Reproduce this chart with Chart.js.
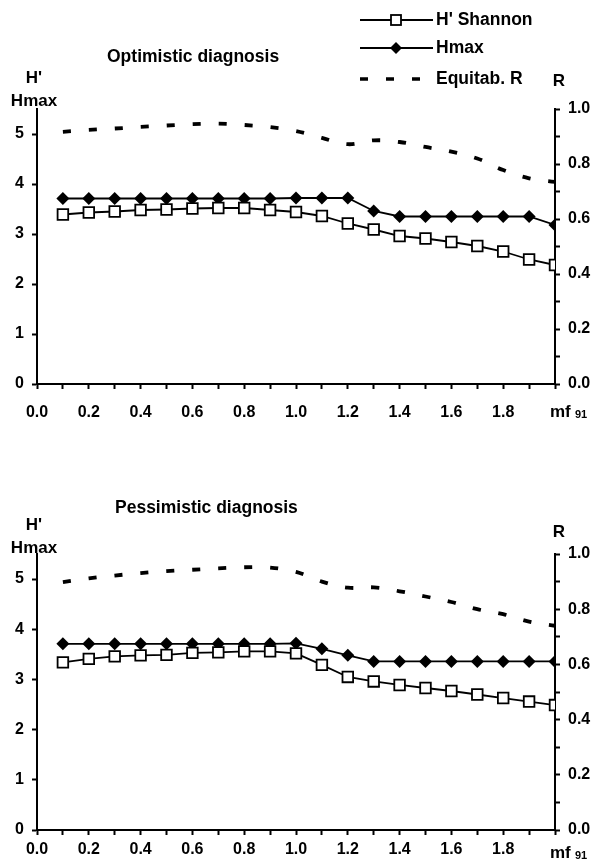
<!DOCTYPE html>
<html>
<head>
<meta charset="utf-8">
<script src="https://cdn.jsdelivr.net/npm/chart.js@4.4.1/dist/chart.umd.min.js"></script>
<style>
  body { margin: 0; background: #fff; width: 594px; height: 865px; overflow: hidden; position: relative; }
  canvas { position: absolute; left: 0; }
</style>
</head>
<body>
<canvas id="optimistic" width="594" height="432" style="top:0"></canvas>
<canvas id="pessimistic" width="594" height="433" style="top:432px"></canvas>
<script>
const mf = [0.1, 0.2, 0.3, 0.4, 0.5, 0.6, 0.7, 0.8, 0.9, 1.0,
            1.1, 1.2, 1.3, 1.4, 1.5, 1.6, 1.7, 1.8, 1.9, 2.0]

// optimistic diagnosis
const optShannon = [3.39, 3.43, 3.45, 3.48, 3.49, 3.51, 3.52, 3.52, 3.48, 3.44,
                    3.36, 3.21, 3.09, 2.96, 2.91, 2.84, 2.76, 2.65, 2.49, 2.38]
const optHmax = [3.71, 3.71, 3.71, 3.71, 3.71, 3.71, 3.71, 3.71, 3.71, 3.72,
                 3.72, 3.72, 3.46, 3.35, 3.35, 3.35, 3.35, 3.35, 3.35, 3.18]
const optEquitab = [0.917, 0.924, 0.929, 0.935, 0.940, 0.945, 0.947, 0.942, 0.934, 0.920,
                    0.895, 0.872, 0.886, 0.880, 0.862, 0.845, 0.820, 0.778, 0.748, 0.735]

// pessimistic diagnosis
const pesShannon = [3.34, 3.41, 3.46, 3.48, 3.49, 3.53, 3.54, 3.56, 3.56, 3.52,
                    3.29, 3.05, 2.96, 2.89, 2.83, 2.77, 2.70, 2.63, 2.56, 2.49]
const pesHmax = [3.71, 3.71, 3.71, 3.71, 3.71, 3.71, 3.71, 3.71, 3.71, 3.72,
                 3.61, 3.48, 3.36, 3.36, 3.36, 3.36, 3.36, 3.36, 3.36, 3.36]
const pesEquitab = [0.898, 0.912, 0.922, 0.931, 0.938, 0.943, 0.948, 0.952, 0.951, 0.935,
                    0.900, 0.878, 0.879, 0.865, 0.846, 0.826, 0.800, 0.782, 0.755, 0.740]

const seriesNames = ["H' Shannon", 'Hmax', 'Equitab. R']
const xTickLabels = ['0.0', '0.2', '0.4', '0.6', '0.8', '1.0', '1.2', '1.4', '1.6', '1.8']

const FONT = '"Liberation Sans", Arial, sans-serif'
Chart.defaults.font.family = FONT
Chart.defaults.color = '#000'

function pts(ys) {
  return mf.map((x, i) => ({ x, y: ys[i] }))
}

function drawSquare(ctx, x, y) {
  ctx.fillStyle = '#fff'
  ctx.strokeStyle = '#000'
  ctx.lineWidth = 1.8
  ctx.setLineDash([])
  ctx.fillRect(x - 5, y - 5, 10, 10)
  ctx.strokeRect(x - 5, y - 5, 10, 10)
}

function drawDiamond(ctx, x, y) {
  ctx.fillStyle = '#000'
  ctx.beginPath()
  ctx.moveTo(x, y - 6)
  ctx.lineTo(x + 6, y)
  ctx.lineTo(x, y + 6)
  ctx.lineTo(x - 6, y)
  ctx.closePath()
  ctx.fill()
}

const textPlugin = {
  id: 'fig-text',
  afterDraw(chart, args, o) {
    const { ctx } = chart
    ctx.save()
    ctx.fillStyle = '#000'
    ctx.textBaseline = 'middle'
    ctx.font = `bold 17.5px ${FONT}`
    ctx.fillText(o.title, o.titleX, o.titleY)
    ctx.font = `bold 17px ${FONT}`
    ctx.textAlign = 'center'
    ctx.fillText("H'", 34, o.hY)
    ctx.fillText('Hmax', 34, o.hY + 23)
    ctx.fillText('R', 559, o.rY)
    ctx.textAlign = 'left'
    ctx.fillText('mf', 550, o.mfY)
    ctx.font = `bold 11px ${FONT}`
    ctx.fillText('91', 575, o.mfY + 3)

    if (o.legend) {
      const rows = [20, 48, 79]
      ctx.font = `bold 17.5px ${FONT}`
      seriesNames.forEach((name, i) => {
        const y = rows[i]
        ctx.strokeStyle = '#000'
        if (i < 2) {
          ctx.lineWidth = 1.8
          ctx.setLineDash([])
          ctx.beginPath()
          ctx.moveTo(360, y)
          ctx.lineTo(433, y)
          ctx.stroke()
          if (i === 0) drawSquare(ctx, 396, y)
          else drawDiamond(ctx, 396, y)
        } else {
          ctx.lineWidth = 3.5
          ctx.setLineDash([8, 18])
          ctx.beginPath()
          ctx.moveTo(360, y)
          ctx.lineTo(421, y)
          ctx.stroke()
        }
        ctx.fillStyle = '#000'
        ctx.fillText(name, 436, y)
      })
    }
    ctx.restore()
  }
}

function axisStyle() {
  return {
    grid: { display: true, drawOnChartArea: false, drawTicks: true, tickLength: 5, tickColor: '#000', tickWidth: 2 },
    border: { display: true, color: '#000', width: 2 }
  }
}

function makeChart(id, shannon, hmax, equitab, cfg) {
  return new Chart(document.getElementById(id), {
    type: 'line',
    data: {
      datasets: [
        {
          label: seriesNames[0],
          data: pts(shannon),
          yAxisID: 'y',
          borderColor: '#000',
          borderWidth: 1.8,
          pointStyle: 'rect',
          pointRadius: 7.5,
          pointBorderWidth: 1.8,
          pointBackgroundColor: '#fff',
          pointBorderColor: '#000',
          order: 1
        },
        {
          label: seriesNames[1],
          data: pts(hmax),
          yAxisID: 'y',
          borderColor: '#000',
          borderWidth: 1.8,
          pointStyle: 'rectRot',
          pointRadius: 6.5,
          pointBorderWidth: 0,
          pointBackgroundColor: '#000',
          order: 2
        },
        {
          label: seriesNames[2],
          data: pts(equitab),
          yAxisID: 'y1',
          borderColor: '#000',
          borderWidth: 3.8,
          borderDash: [8, 18],
          pointRadius: 0,
          tension: 0.4,
          order: 3
        }
      ]
    },
    options: {
      responsive: false,
      animation: false,
      devicePixelRatio: 1,
      layout: { padding: { top: cfg.top, left: 0, right: 0, bottom: 0 }, autoPadding: false },
      plugins: {
        legend: { display: false },
        tooltip: { enabled: false },
        'fig-text': cfg.text
      },
      scales: {
        x: {
          type: 'linear',
          min: 0,
          max: 2,
          ...axisStyle(),
          afterFit: (s) => { s.height = cfg.xHeight },
          ticks: {
            stepSize: 0.1,
            autoSkip: false,
            maxRotation: 0,
            padding: cfg.xPad,
            font: { size: 16, weight: 'bold' },
            callback: (v) => {
              const k = Math.round(v * 10)
              return k % 2 === 0 && k < 20 ? xTickLabels[k / 2] : ''
            }
          }
        },
        y: {
          position: 'left',
          min: 0,
          max: 5.5,
          ...axisStyle(),
          afterFit: (s) => { s.width = 37 },
          ticks: {
            stepSize: 1,
            includeBounds: false,
            padding: 8,
            font: { size: 16, weight: 'bold' },
            callback: (v) => String(v)
          }
        },
        y1: {
          position: 'right',
          min: 0,
          max: 1,
          ...axisStyle(),
          afterFit: (s) => { s.width = 39 },
          ticks: {
            stepSize: 0.1,
            autoSkip: false,
            padding: 8,
            font: { size: 16, weight: 'bold' },
            callback: (v) => {
              const k = Math.round(v * 10)
              return k % 2 === 0 ? (k / 10).toFixed(1) : ''
            }
          }
        }
      }
    },
    plugins: [textPlugin]
  })
}

makeChart('optimistic', optShannon, optHmax, optEquitab, {
  top: 109,
  xHeight: 48,
  xPad: 14,
  text: { title: 'Optimistic diagnosis', titleX: 107, titleY: 57, hY: 78, rY: 81, mfY: 412, legend: true }
})

makeChart('pessimistic', pesShannon, pesHmax, pesEquitab, {
  top: 122,
  xHeight: 35,
  xPad: 5,
  text: { title: 'Pessimistic diagnosis', titleX: 115, titleY: 76, hY: 93, rY: 100, mfY: 421, legend: false }
})
</script>
</body>
</html>
